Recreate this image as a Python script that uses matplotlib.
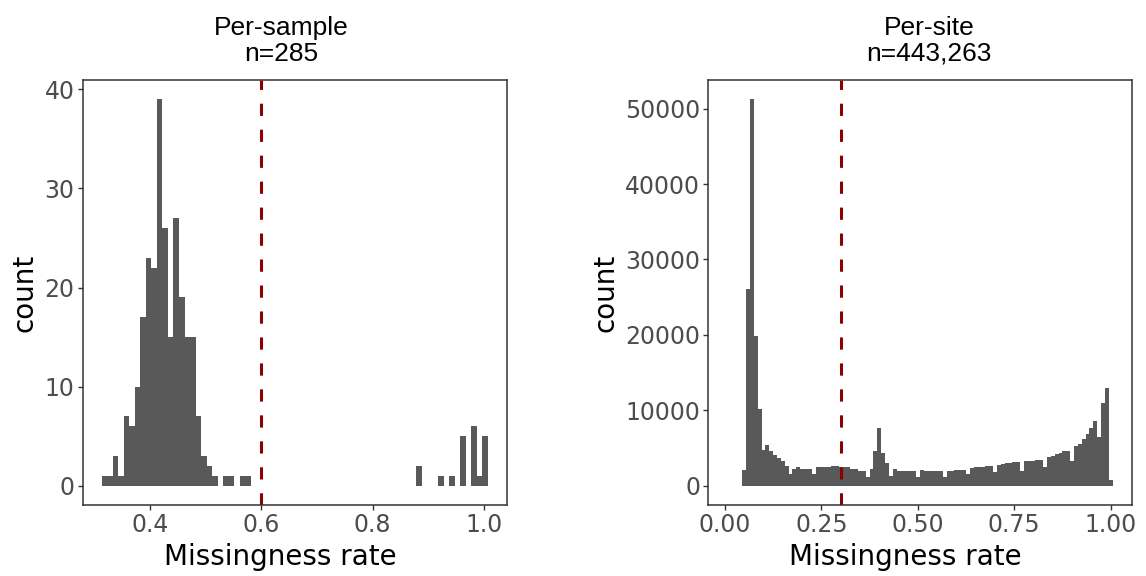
import numpy as np
import matplotlib.pyplot as plt

# per-sample missingness histogram (70 bins)
sample_lo, sample_hi = 0.3132, 1.0073
sample_counts = [1, 1, 3, 1, 7, 6, 10, 17, 23, 22, 39, 26, 15, 27, 19, 15, 15, 7, 3, 2, 1,
                 0, 1, 1, 0, 1, 1,
                 0, 0, 0, 0, 0, 0, 0, 0, 0, 0, 0, 0, 0, 0, 0, 0, 0, 0, 0, 0, 0, 0, 0, 0, 0, 0, 0, 0, 0, 0,
                 2, 0, 0, 0, 1, 0, 1, 0, 5, 0, 6, 1, 5]

# per-site missingness histogram (binwidth 0.01)
site_lo, site_hi = 0.045, 1.005
site_counts = [2125, 26100, 51240, 19820, 10190, 4740, 5400, 4650, 4120, 3670,
               3230, 2650, 1550, 2210, 2520, 2210, 2250, 2250, 1550, 2430,
               2430, 2520, 2520, 2570, 2570, 2500, 2430, 2430, 2210, 2210,
               1990, 1990, 1200, 2210, 4560, 7660, 4290, 2970, 1330, 2210,
               1990, 1990, 1990, 1900, 1900, 1200, 2080, 1990, 1900, 1900,
               1900, 1900, 1200, 1990, 1990, 2120, 2120, 2120, 1550, 2300,
               2430, 2520, 2520, 2570, 2570, 1770, 2790, 2880, 2970, 3010,
               3100, 3190, 1990, 3230, 3230, 3320, 3410, 3450, 2430, 3760,
               3980, 4200, 4290, 4650, 4650, 3230, 5270, 5530, 6200, 6860,
               7660, 8540, 6420, 10980, 12970, 750]

titles = ["Per-sample\nn=285", "Per-site\nn=443,263"]
cutoffs = [0.6, 0.3]
xticks = [[0.4, 0.6, 0.8, 1.0], [0.0, 0.25, 0.5, 0.75, 1.0]]
xticklabels = [["0.4", "0.6", "0.8", "1.0"], ["0.00", "0.25", "0.50", "0.75", "1.00"]]
yticks = [[0, 10, 20, 30, 40], [0, 10000, 20000, 30000, 40000, 50000]]

W, H = 1146, 576
fig = plt.figure(figsize=(W / 100, H / 100), dpi=100)
ax1 = fig.add_axes([82.7 / W, 71 / H, 424.6 / W, 425 / H])
ax2 = fig.add_axes([708.3 / W, 71 / H, 424 / W, 425 / H])

datasets = [(sample_lo, sample_hi, sample_counts), (site_lo, site_hi, site_counts)]
for i, ax in enumerate([ax1, ax2]):
    lo, hi, counts = datasets[i]
    edges = np.linspace(lo, hi, len(counts) + 1)
    ax.stairs(counts, edges, fill=True, color="#595959", lw=0)
    ax.axvline(cutoffs[i], color="#8B0000", lw=2.2, ls=(0, (4, 4.5)))

    ax.set_ylim(-0.05 * max(counts), 1.05 * max(counts))
    ax.set_xticks(xticks[i])
    ax.set_xticklabels(xticklabels[i])
    ax.set_yticks(yticks[i])
    ax.tick_params(length=3.8, width=1.0, color="#333333", labelcolor="#4D4D4D",
                   labelsize=17, pad=2)
    for s in ax.spines.values():
        s.set_color("#333333")
        s.set_linewidth(1.1)
    ax.set_xlabel("Missingness rate", fontsize=20, labelpad=1)
    ax.set_ylabel("count", fontsize=20)

ax1.set_xlim(0.279, 1.042)
ax2.set_xlim(-0.0433, 1.056)
ax1.yaxis.set_label_coords(-0.105, 0.5)
ax2.yaxis.set_label_coords(-0.21, 0.5)
ax1.xaxis.set_label_coords(0.465, -0.09)
ax2.xaxis.set_label_coords(0.465, -0.09)

fig.text(281 / W, 1 - 66 / H, titles[0], ha="center", va="bottom", fontsize=19,
         family="Liberation Sans", linespacing=1.1)
fig.text(929 / W, 1 - 66 / H, titles[1], ha="center", va="bottom", fontsize=19,
         family="Liberation Sans", linespacing=1.1)

fig.savefig("out.png", dpi=100)
